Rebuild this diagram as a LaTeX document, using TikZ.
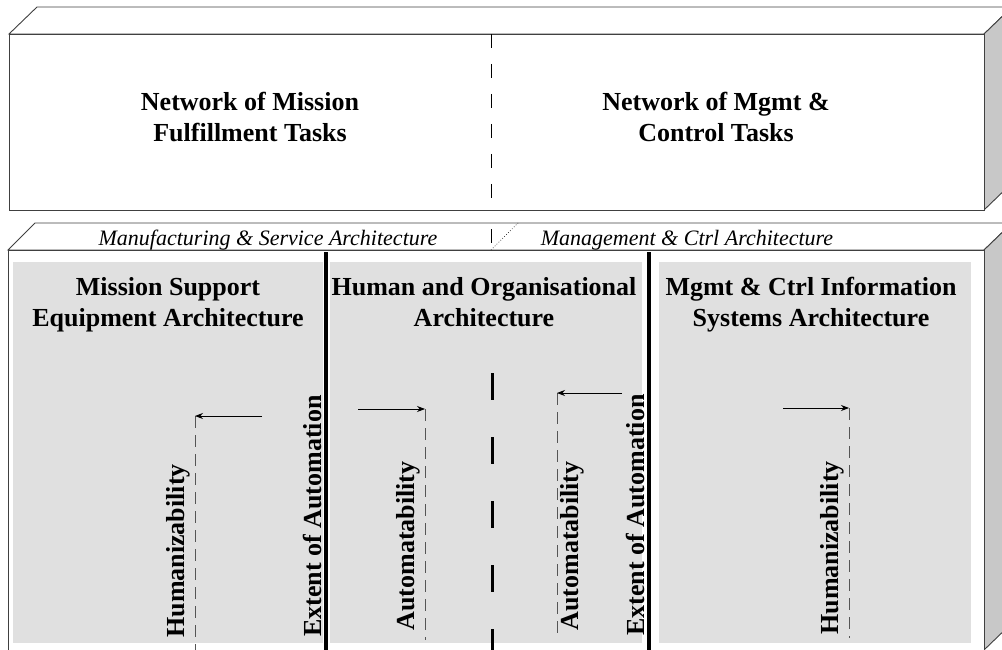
\documentclass[tikz,border=0pt]{standalone}
\usepackage{fontspec}
\setmainfont{Liberation Serif}
\usetikzlibrary{arrows.meta}
\definecolor{edge}{HTML}{404040}
\definecolor{sidegray}{HTML}{C8C8C8}
\definecolor{panel}{HTML}{E0E0E0}
\definecolor{guide}{HTML}{555555}
\begin{document}
\begin{tikzpicture}[x=1pt,y=-1pt,
  outline/.style={draw=edge,line width=0.9pt},
  sideface/.style={outline,fill=sidegray},
  divider/.style={line width=3.5pt,black},
  heading/.style={font=\fontsize{26}{31}\selectfont\bfseries,anchor=base,inner sep=0pt},
  toptext/.style={font=\fontsize{26}{31}\selectfont\bfseries,anchor=base,inner sep=0pt},
  archlabel/.style={font=\fontsize{22}{26}\selectfont\itshape,inner sep=0pt},
  vlabel/.style={font=\fontsize{26}{30}\selectfont\bfseries,rotate=90,inner sep=0pt},
  guideline/.style={draw=guide,line width=0.9pt,dash pattern=on 12pt off 7pt},
  shiftarrow/.style={draw=black,line width=0.8pt,-{Stealth[length=8pt,width=6pt]}},
]
\useasboundingbox (0,0) rectangle (1002,650);
\begin{scope}
\clip (0,0) rectangle (1002,650);
% ---------- upper block ----------
\draw[outline,fill=white] (9,34) -- (37,7) -- (1012,7) -- (984,34) -- cycle;
\draw[sideface] (984,34) -- (1012,7) -- (1012,183) -- (984,210) -- cycle;
\draw[outline,fill=white] (9,34) rectangle (984,210);
\draw[black,line width=0.8pt,dash pattern=on 14pt off 16pt] (491,34) -- (491,210);
\node[toptext] (mft1) at (250,111) {Network of Mission};
\node[toptext] (mft2) at (250,142) {Fulfillment Tasks};
\node[toptext] (mct1) at (716,111) {Network of Mgmt \&};
\node[toptext] (mct2) at (716,142) {Control Tasks};
% ---------- lower block ----------
\draw[outline,fill=white] (8,250) -- (35,223) -- (1012,223) -- (984,250) -- cycle;
\draw[sideface] (984,250) -- (1012,223) -- (1012,623) -- (984,650) -- cycle;
\draw[outline,fill=white] (8,250) rectangle (984,650);
\draw[black,line width=0.7pt] (491,229) -- (491,243);
\draw[black,line width=0.7pt,dotted] (491,250) -- (518,223);
\node[archlabel] (msa) at (268,240) {Manufacturing \& Service Architecture};
\node[archlabel] (mca) at (687,240) {Management \& Ctrl Architecture};
% panels
\fill[panel] (13,262) rectangle (323,643);
\fill[panel] (330,262) rectangle (642,643);
\fill[panel] (659,262) rectangle (971,643);
% dividers
\draw[divider] (326,252) -- (326,650);
\draw[divider] (649,252) -- (649,650);
\draw[black,line width=3pt,dash pattern=on 27pt off 37pt] (492,373) -- (492,650);
% headings
\node[heading] (h1a) at (168,295) {Mission Support};
\node[heading] (h1b) at (168,326) {Equipment Architecture};
\node[heading] (h2a) at (484,295) {Human and Organisational};
\node[heading] (h2b) at (484,326) {Architecture};
\node[heading] (h3a) at (811,295) {Mgmt \& Ctrl Information};
\node[heading] (h3b) at (811,326) {Systems Architecture};
% guide lines
\coordinate (g1t) at (195,416); \coordinate (g1b) at (195,650);
\coordinate (g2t) at (425,409); \coordinate (g2b) at (425,640);
\coordinate (g3t) at (557,393); \coordinate (g3b) at (557,634);
\coordinate (g4t) at (849,408); \coordinate (g4b) at (849,638);
\draw[guideline] (g1t) -- (g1b);
\draw[guideline] (g2t) -- (g2b);
\draw[guideline] (g3t) -- (g3b);
\draw[guideline] (g4t) -- (g4b);
% arrows
\coordinate (a1) at (262,416);
\coordinate (a2) at (358,409);
\coordinate (a3) at (622,393);
\coordinate (a4) at (783,408);
\draw[shiftarrow] (a1) -- (g1t);
\draw[shiftarrow] (a2) -- (g2t);
\draw[shiftarrow] (a3) -- (g3t);
\draw[shiftarrow] (a4) -- (g4t);
% vertical labels
\node[vlabel] (hz1) at (178,551) {Humanizability};
\node[vlabel] (ea1) at (313,516) {Extent of Automation};
\node[vlabel] (am1) at (408,546) {Automatability};
\node[vlabel] (am2) at (572,546) {Automatability};
\node[vlabel] (ea2) at (635,515) {Extent of Automation};
\node[vlabel] (hz2) at (832,548) {Humanizability};
\end{scope}
\end{tikzpicture}
\end{document}
